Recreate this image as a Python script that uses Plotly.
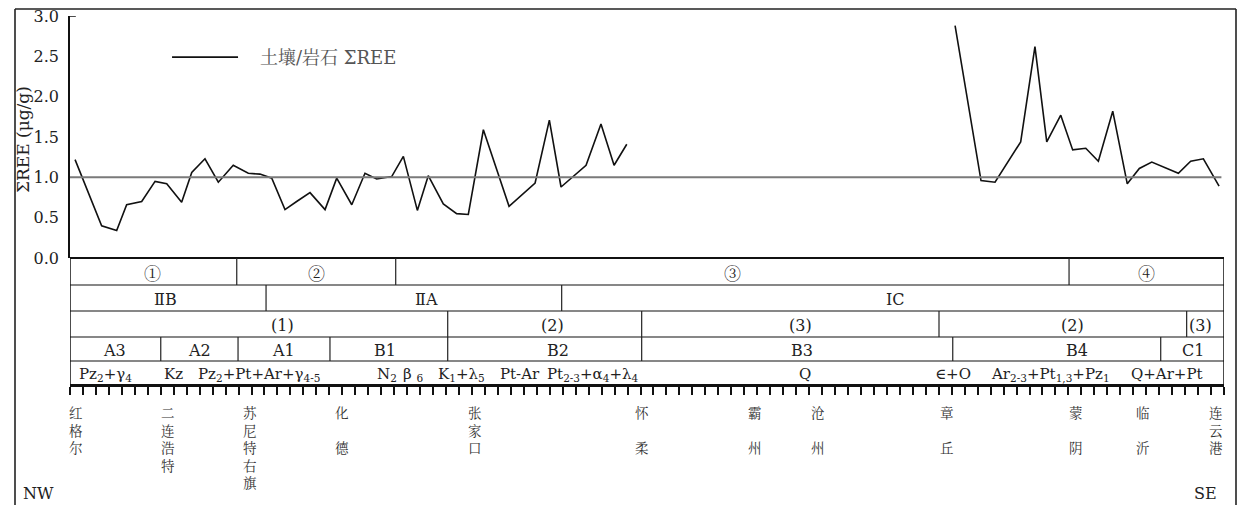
import plotly.graph_objects as go

W, H = 1244, 505

# ---- profile data: sample position along the NW-SE ruler (tick units) and soil/rock ΣREE
pos_nw = [0.39, 2.44, 3.60, 4.37, 5.53, 6.56, 7.46, 8.61, 9.39, 10.41,
          11.44, 12.59, 13.75, 14.65, 15.56, 16.58, 17.48, 18.51, 19.67, 20.57,
          21.73, 22.75, 23.65, 24.81, 25.71, 26.79, 27.63, 28.79, 29.82, 30.72,
          31.88, 33.86, 35.87, 36.97, 37.87, 39.80, 40.95, 41.96, 42.94]
ree_nw = [1.22, 0.40, 0.34, 0.66, 0.70, 0.95, 0.92, 0.69, 1.06, 1.23,
          0.94, 1.15, 1.05, 1.04, 0.99, 0.60, 0.70, 0.81, 0.60, 0.99,
          0.66, 1.05, 0.98, 1.01, 1.26, 0.59, 1.02, 0.67, 0.55, 0.54,
          1.59, 0.64, 0.93, 1.71, 0.88, 1.15, 1.66, 1.15, 1.41]
pos_se = [68.26, 70.26, 71.34, 73.32, 74.42, 75.33, 76.41, 77.33, 78.34, 79.31,
          80.42, 81.54, 82.47, 83.43, 85.48, 86.43, 87.41, 88.62]
ree_se = [2.88, 0.96, 0.94, 1.44, 2.62, 1.44, 1.77, 1.34, 1.36, 1.20,
          1.82, 0.92, 1.11, 1.19, 1.05, 1.20, 1.23, 0.89]
series_name = "土壤/岩石 ΣREE"
ref_level = 1.0

y_ticks = [0.0, 0.5, 1.0, 1.5, 2.0, 2.5, 3.0]
n_ruler = 89  # ruler intervals

# ---- zoning table below the profile (edges and label anchors in ruler units)
zone_edges = [0, 12.86, 25.12, 77.05, 89]
zone_labels = ["①", "②", "③", "④"]
zone_pos = [6.4, 19.0, 51.1, 83.0]

unit_edges = [0, 15.12, 37.92, 89]
unit_labels = ["ⅡB", "ⅡA", "IC"]
unit_pos = [7.4, 27.5, 63.7]

sub_edges = [0, 29.13, 44.09, 67.02, 86.12, 89]
sub_labels = ["(1)", "(2)", "(3)", "(2)", "(3)"]
sub_pos = [16.35, 37.25, 56.3, 77.3, 87.2]

block_edges = [0, 7.0, 12.96, 20.05, 29.13, 44.09, 68.08, 84.12, 89]
block_labels = ["A3", "A2", "A1", "B1", "B2", "B3", "B4", "C1"]
block_pos = [3.4, 9.95, 16.5, 24.3, 37.6, 56.45, 77.7, 86.6]

litho_labels = ["Pz<sub>2</sub>+γ<sub>4</sub>", "Kz", "Pz<sub>2</sub>+Pt+Ar+γ<sub>4-5</sub>",
                "N<sub>2</sub>", "β <sub>6</sub>", "K<sub>1</sub>+λ<sub>5</sub>", "Pt-Ar",
                "Pt<sub>2-3</sub>+α<sub>4</sub>+λ<sub>4</sub>", "Q", "∈+O",
                "Ar<sub>2-3</sub>+Pt<sub>1,3</sub>+Pz<sub>1</sub>", "Q+Ar+Pt"]
litho_pos = [2.7, 7.95, 14.6, 24.45, 26.45, 30.23, 34.7, 40.34, 56.7, 68.1, 75.6, 84.6]

# ---- localities along the profile
places = ["红格尔", "二连浩特", "苏尼特右旗", "化德", "张家口", "怀柔",
          "霸州", "沧州", "章丘", "蒙阴", "临沂", "连云港"]
place_pos = [0.46, 7.56, 13.9, 21.0, 31.2, 44.1, 52.8, 57.7, 67.6, 77.6, 82.75, 88.4]

# ---- layout geometry (pixels)
PLOT_L, PLOT_R = 70, 1224
PLOT_T, PLOT_B = 16, 258
ROW_Y = [258, 285, 311, 337, 361, 385]
FRAME_L, FRAME_R, FRAME_T = 15, 1236, 9

SERIF = "DejaVu Serif, Liberation Serif, serif"
CJK = "Noto Serif CJK SC, Noto Sans CJK SC, sans-serif"
TXT = "#222222"


def px(v):
    return v / W


def py(v):
    return 1 - v / H


def dx(v):
    """pixel column -> fraction of the x-axis domain"""
    return (v - PLOT_L) / (PLOT_R - PLOT_L)


fig = go.Figure()
fig.add_trace(go.Scatter(
    x=pos_nw + [None] + pos_se,
    y=ree_nw + [None] + ree_se,
    mode="lines", name=series_name,
    line=dict(color="#111111", width=1.6),
    connectgaps=False, showlegend=False, hoverinfo="x+y",
))

shapes = []
annotations = []

# page frame (top, left and right edges), placed relative to the x-axis domain
frame = dict(type="line", xref="x domain", yref="paper",
             line=dict(color="#222222", width=1.6))
shapes.append(dict(frame, x0=dx(FRAME_L), x1=dx(FRAME_R), y0=py(FRAME_T), y1=py(FRAME_T)))
shapes.append(dict(frame, x0=dx(FRAME_L), x1=dx(FRAME_L), y0=py(FRAME_T), y1=py(H)))
shapes.append(dict(frame, x0=dx(FRAME_R), x1=dx(FRAME_R), y0=py(FRAME_T), y1=py(H)))

# reference level
shapes.append(dict(type="line", xref="x", yref="y", x0=0, x1=88.8,
                   y0=ref_level, y1=ref_level, line=dict(color="#7a7a7a", width=2)))
# top tick stub on y axis
shapes.append(dict(type="line", xref="x", yref="y", x0=0, x1=0.45,
                   y0=y_ticks[-1], y1=y_ticks[-1], line=dict(color="#111", width=1.5)))

# table grid
for i, yy in enumerate(ROW_Y[:-1]):
    shapes.append(dict(type="line", xref="x", yref="paper", x0=0, x1=n_ruler,
                       y0=py(yy), y1=py(yy),
                       line=dict(color="#111", width=2 if i == 0 else 1.2)))
for xx in (0, n_ruler):
    shapes.append(dict(type="line", xref="x", yref="paper", x0=xx, x1=xx,
                       y0=py(ROW_Y[0]), y1=py(ROW_Y[-1]),
                       line=dict(color="#111", width=1.5)))

rows = [
    (zone_edges, zone_labels, zone_pos, CJK, 17),
    (unit_edges, unit_labels, unit_pos, SERIF, 16),
    (sub_edges, sub_labels, sub_pos, SERIF, 16),
    (block_edges, block_labels, block_pos, SERIF, 16),
]
for r, (edges, labels, lpos, fam, fsize) in enumerate(rows):
    top, bot = ROW_Y[r], ROW_Y[r + 1]
    for e in edges[1:-1]:
        shapes.append(dict(type="line", xref="x", yref="paper", x0=e, x1=e,
                           y0=py(top), y1=py(bot), line=dict(color="#222", width=1.2)))
    for lab, xp in zip(labels, lpos):
        annotations.append(dict(x=xp, y=py((top + bot) / 2 + 1), xref="x", yref="paper",
                                text=lab, showarrow=False, xanchor="center", yanchor="middle",
                                font=dict(family=fam, size=fsize, color=TXT)))

for lab, xp in zip(litho_labels, litho_pos):
    annotations.append(dict(x=xp, y=py((ROW_Y[4] + ROW_Y[5]) / 2 + 1), xref="x", yref="paper",
                            text=lab, showarrow=False, xanchor="center", yanchor="middle",
                            font=dict(family=SERIF, size=15, color=TXT)))

# locality names, written vertically (two-character names are spread out)
for name, xp in zip(places, place_pos):
    sep = "<br> <br>" if len(name) == 2 else "<br>"
    annotations.append(dict(x=xp, y=py(400), xref="x", yref="paper",
                            text=sep.join(name), showarrow=False,
                            xanchor="center", yanchor="top", align="center",
                            font=dict(family=CJK, size=13.5, color="#333333")))

annotations.append(dict(x=px(38), y=py(493), xref="paper", yref="paper", text="NW",
                        showarrow=False, xanchor="center", yanchor="middle",
                        font=dict(family=SERIF, size=16, color=TXT)))
annotations.append(dict(x=px(1205), y=py(493), xref="paper", yref="paper", text="SE",
                        showarrow=False, xanchor="center", yanchor="middle",
                        font=dict(family=SERIF, size=16, color=TXT)))

# y axis title
annotations.append(dict(x=px(23), y=py(140), xref="paper", yref="paper",
                        text="ΣREE (μg/g)", textangle=-90, showarrow=False,
                        xanchor="center", yanchor="middle",
                        font=dict(family=SERIF, size=17, color=TXT)))

# legend
shapes.append(dict(type="line", xref="x", yref="y", x0=7.87, x1=12.96, y0=2.49, y1=2.49,
                   line=dict(color="#111", width=1.6)))
annotations.append(dict(x=14.5, y=2.49, xref="x", yref="y", text=series_name,
                        showarrow=False, xanchor="left", yanchor="middle",
                        font=dict(family=SERIF + ", " + CJK, size=18, color="#555555")))

fig.update_layout(
    width=W, height=H,
    margin=dict(l=0, r=0, t=0, b=0, pad=0, autoexpand=False),
    paper_bgcolor="white", plot_bgcolor="white",
    shapes=shapes, annotations=annotations,
    xaxis=dict(domain=[px(PLOT_L), px(PLOT_R)], range=[0, n_ruler],
               anchor="free", position=py(ROW_Y[-1]), automargin=False,
               showline=True, linecolor="#111", linewidth=2.5,
               ticks="outside", ticklen=8, tickwidth=2.2, tickcolor="#111",
               tick0=0, dtick=1, showticklabels=False,
               showgrid=False, zeroline=False, fixedrange=True),
    yaxis=dict(domain=[py(PLOT_B), py(PLOT_T)], range=[0, 3], anchor="x",
               automargin=False,
               showline=True, linecolor="#111", linewidth=1.5,
               ticks="", tickvals=y_ticks, ticktext=[f"{v:.1f}" for v in y_ticks],
               ticklabelstandoff=6,
               tickfont=dict(family=SERIF, size=16, color=TXT),
               showgrid=False, zeroline=False, fixedrange=True),
    showlegend=False,
)

fig.write_html("out.html")
